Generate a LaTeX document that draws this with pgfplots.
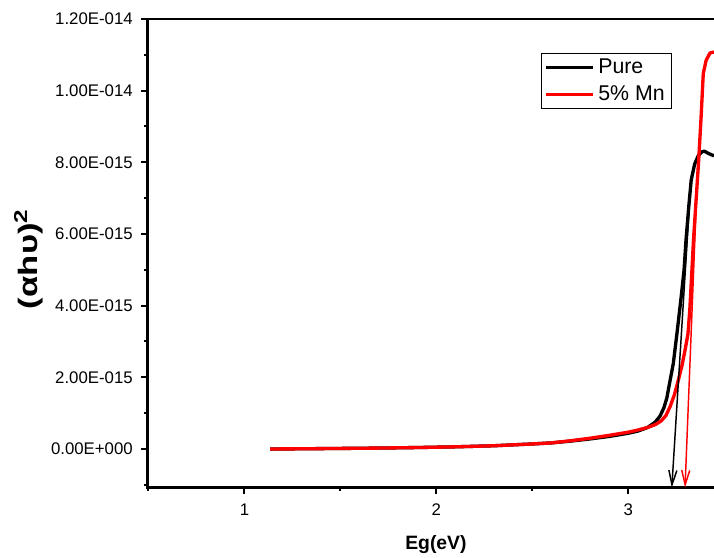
\documentclass[border=0pt]{standalone}
\usepackage{fontspec}
\setmainfont{Liberation Sans}
\usepackage{graphicx}
\usepackage{pgfplots}
\pgfplotsset{compat=1.18}
\usetikzlibrary{arrows.meta}

\pgfplotstableread{
E v
1.134 0.00
1.3 0.005
1.5 0.015
1.7 0.025
1.9 0.04
2.1 0.06
2.3 0.09
2.5 0.14
2.6 0.17
2.7 0.22
2.8 0.28
2.9 0.35
3.0 0.44
3.05 0.50
3.1 0.60
3.14 0.75
3.165 0.92
3.185 1.15
3.20 1.42
3.215 1.85
3.234 2.39
3.255 3.32
3.275 4.25
3.29 5.0
3.30 5.83
3.315 6.8
3.327 7.5
3.345 7.95
3.365 8.2
3.385 8.3
3.396 8.31
3.42 8.24
3.446 8.18
}\pure

\pgfplotstableread{
E v
1.134 0.00
1.3 0.005
1.5 0.015
1.7 0.025
1.9 0.04
2.1 0.06
2.3 0.09
2.5 0.14
2.6 0.17
2.7 0.23
2.8 0.30
2.9 0.38
3.0 0.47
3.05 0.53
3.1 0.60
3.14 0.68
3.17 0.78
3.195 0.93
3.217 1.18
3.24 1.52
3.26 1.92
3.28 2.35
3.295 2.76
3.31 3.2
3.32 3.9
3.33 4.9
3.339 5.83
3.352 6.9
3.365 7.97
3.378 9.2
3.39 10.48
3.405 10.85
3.425 11.05
3.446 11.08
}\mn

\begin{document}
\begin{tikzpicture}
\begin{axis}[
  name=ax,
  scale only axis,
  width=432.7pt, height=351.5pt,
  xmin=0.495, xmax=3.5,
  ymin=-1.08, ymax=12,
  axis line style={line width=1.8pt},
  clip=false,
  tick align=outside,
  xtick pos=bottom, ytick pos=left,
  xtick={1,2,3}, xticklabels={1,2,3},
  minor xtick={0.5,1.5,2.5},
  ytick={0,2,4,6,8,10,12},
  yticklabels={0.00E+000,2.00E-015,4.00E-015,6.00E-015,8.00E-015,1.00E-014,1.20E-014},
  minor ytick={-1,1,3,5,7,9,11},
  major tick length=4.5pt, minor tick length=2.5pt,
  every tick/.style={black, line width=1.5pt},
  tick label style={font=\fontsize{12.6}{14}\selectfont},
  xticklabel style={yshift=-4pt},
  yticklabel style={xshift=-3pt},
  xlabel={Eg(eV)},
  xlabel style={at={(axis description cs:0.5,0)}, anchor=base, yshift=-46.7pt, font=\bfseries\fontsize{14.5}{16}\selectfont},
  ylabel={\scalebox{1.3}[1]{(αhυ)\textsuperscript{2}}},
  ylabel style={at={(axis description cs:-0.181,0.488)}, anchor=south, inner sep=0pt, font=\bfseries\fontsize{20}{22}\selectfont},
  legend style={at={(axis description cs:0.909,0.9275)}, anchor=north east, draw=black, line width=0.8pt, font=\fontsize{16}{18}\selectfont, inner xsep=2pt, inner ysep=1pt, row sep=2pt, column sep=0pt, nodes={inner sep=3pt}},
  legend cell align=left,
  legend image code/.code={\draw[#1] (0pt,0pt) -- (35pt,0pt);},
  no markers,
]
\addplot[black, line width=2.5pt, line join=round] table[x=E,y=v] {\pure};
\addlegendentry{Pure}
\addplot[red, line width=2.5pt, line join=round] table[x=E,y=v] {\mn};
\addlegendentry{5\% Mn}
\addplot[black, line width=1.1pt, -{Straight Barb[length=11pt,width=6pt]}, forget plot] coordinates {(3.327,7.6) (3.226,-1.08)};
\addplot[red, line width=1.1pt, -{Straight Barb[length=11pt,width=6pt]}, forget plot] coordinates {(3.362,8.0) (3.295,-1.08)};
\end{axis}
\pgfresetboundingbox
\path ([shift={(-110.6pt,-52pt)}]ax.south west) rectangle ([shift={(-7.8pt,14.25pt)}]ax.north east);
\end{tikzpicture}
\end{document}
